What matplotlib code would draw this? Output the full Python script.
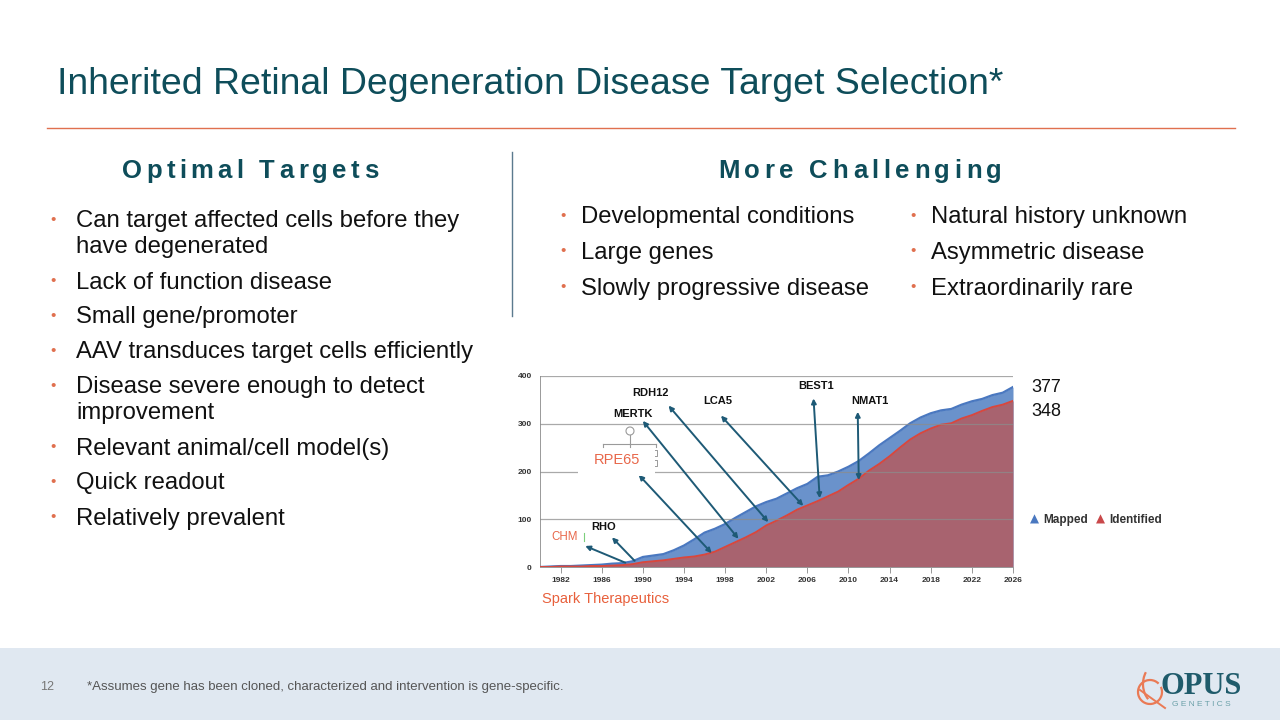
import numpy as np
import matplotlib
matplotlib.use("Agg")
import matplotlib.pyplot as plt
from matplotlib.patches import Rectangle, Arc

plt.rcParams['font.family'] = ['Liberation Sans', 'DejaVu Sans']

# ---- data ----
years = list(range(1980, 2027))
mapped = [0, 1, 2, 2, 3, 4, 5, 7, 8, 12, 21, 24, 27, 35, 45, 58, 72, 80, 90, 103,
          115, 127, 136, 143, 154, 165, 174, 189, 192, 200, 210, 222, 238, 255, 270,
          285, 301, 313, 322, 328, 331, 340, 347, 352, 360, 365, 377]
identified = [0, 0, 1, 1, 1, 2, 2, 3, 4, 6, 10, 12, 14, 17, 20, 22, 26, 32, 42, 52,
              62, 73, 87, 97, 108, 120, 129, 138, 148, 158, 172, 185, 202, 216, 232,
              250, 267, 280, 290, 298, 301, 311, 318, 327, 335, 340, 348]
x_ticks = list(range(1982, 2027, 4))
y_ticks = [0, 100, 200, 300, 400]

# gene callouts: label, label position, arrow head end, arrow curve end
genes = ['CHM', 'RHO', 'RPE65', 'MERTK', 'RDH12', 'LCA5', 'BEST1', 'NMAT1']
label_xy = [(1982.4, 63), (1986.2, 84), (1987.5, 224), (1989.0, 320),
            (1990.7, 364), (1997.3, 348), (2006.8, 379), (2012.1, 348)]
head_xy = [(1984.4, 44), (1987.0, 62), (1989.6, 193), (1990.0, 306),
           (1992.5, 338), (1997.6, 317), (2006.6, 353), (2010.9, 325)]
tail_xy = [(1988.3, 9), (1989.2, 13), (1996.7, 29), (1999.3, 59),
           (2002.2, 94), (2005.6, 128), (2007.2, 144), (2011.0, 182)]

left_bullets = ["Can target affected cells before they\nhave degenerated",
                "Lack of function disease", "Small gene/promoter",
                "AAV transduces target cells efficiently",
                "Disease severe enough to detect\nimprovement",
                "Relevant animal/cell model(s)", "Quick readout",
                "Relatively prevalent"]
right_col1 = ["Developmental conditions", "Large genes", "Slowly progressive disease"]
right_col2 = ["Natural history unknown", "Asymmetric disease", "Extraordinarily rare"]

TEAL = '#0e4d5a'
ORANGE = '#e0704f'
W, H = 1280, 720

fig = plt.figure(figsize=(12.8, 7.2), dpi=100)
fig.patch.set_facecolor('white')


def fx(px):
    return px / W


def fy(py):
    return 1 - py / H


def spaced(cx, cy, s, target_w, **kw):
    # letter-spaced heading, spread to a target pixel width
    r = fig.canvas.get_renderer()
    ref = fig.text(0, 0, 'xx', **kw)
    base = ref.get_window_extent(r).width
    ref.remove()
    widths = []
    for ch in s:
        t = fig.text(0, 0, 'x' + ch + 'x', **kw)
        widths.append(t.get_window_extent(r).width - base)
        t.remove()
    gap = (target_w - sum(widths)) / (len(s) - 1)
    x = cx - target_w / 2
    for ch, w in zip(s, widths):
        fig.text(fx(x), fy(cy), ch, ha='left', va='center', **kw)
        x += w + gap


# title and rules
fig.text(fx(57), fy(84), "Inherited Retinal Degeneration Disease Target Selection*",
         fontsize=26.9, color=TEAL, ha='left', va='center')
fig.add_artist(plt.Line2D([fx(47), fx(1235)], [fy(128), fy(128)], color=ORANGE, lw=1))
fig.add_artist(plt.Line2D([fx(512), fx(512)], [fy(152), fy(316)], color='#5b7a8e', lw=1))

spaced(250, 171, "Optimal Targets", 256, fontsize=18.5, fontweight='bold', color=TEAL)
spaced(860, 171, "More Challenging", 284, fontsize=18.5, fontweight='bold', color=TEAL)

# left bullets
y = 220
for item in left_bullets:
    lines = item.split('\n')
    fig.text(fx(53), fy(y), "\u2022", fontsize=11, color=ORANGE, ha='center', va='center')
    for ln in lines:
        fig.text(fx(76), fy(y + 1.5), ln, fontsize=17.2, color='#111111', ha='left', va='center')
        y += 26
    y += 9

for col_x, items in [(563, right_col1), (913, right_col2)]:
    for i, item in enumerate(items):
        yy = 216 + i * 35.5
        fig.text(fx(col_x), fy(yy), "\u2022", fontsize=11, color=ORANGE, ha='center', va='center')
        fig.text(fx(col_x + 18), fy(yy + 1.5), item, fontsize=17.2, color='#111111',
                 ha='left', va='center')

# ---- chart ----
ax = fig.add_axes([fx(540), fy(567), (1013 - 540) / W, (567 - 376) / H])
ax.fill_between(years, 0, mapped, color='#6a92cb', lw=0, zorder=1)
ax.fill_between(years, 0, identified, color='#a8636f', lw=0, zorder=2)
ax.plot(years, mapped, color='#4a78c0', lw=1.6, zorder=3)
ax.plot(years, identified, color='#d9473d', lw=1.4, zorder=4)
for v in y_ticks[1:]:
    ax.axhline(v, color='#8c8c8c', lw=0.9, alpha=0.75, zorder=5)

ax.set_xlim(1980, 2026)
ax.set_ylim(0, 400)
ax.set_xticks(x_ticks)
ax.set_yticks(y_ticks)
ax.tick_params(axis='x', length=4, width=0.6, color='#888888', labelsize=6, pad=3)
ax.tick_params(axis='y', length=0, labelsize=6, pad=6)
for lab in ax.get_xticklabels() + ax.get_yticklabels():
    lab.set_fontweight('bold')
    lab.set_color('#333333')
for s in ['top', 'right']:
    ax.spines[s].set_visible(False)
for s in ['left', 'bottom']:
    ax.spines[s].set_color('#999999')
    ax.spines[s].set_linewidth(0.7)

# white text box behind RPE65 with selection handles
fig.add_artist(Rectangle((fx(578), fy(476)), 77 / W, 34 / H, facecolor='white',
                         edgecolor='none', zorder=6))
hc = '#9a9a9a'
fig.add_artist(plt.Line2D([fx(603), fx(656)], [fy(444), fy(444)], color=hc, lw=0.8, zorder=7))
for hx in (603, 630, 656):
    fig.add_artist(plt.Line2D([fx(hx), fx(hx)], [fy(444), fy(447)], color=hc, lw=0.8, zorder=7))
fig.add_artist(plt.Line2D([fx(630), fx(630)], [fy(435), fy(444)], color=hc, lw=0.8, zorder=7))
fig.add_artist(Arc((fx(630), fy(431)), 8 / W, 8 / H, color=hc, lw=0.8, zorder=7))
for hy in (453, 463):
    fig.add_artist(plt.Line2D([fx(655), fx(657), fx(657), fx(655)],
                              [fy(hy - 3), fy(hy - 3), fy(hy + 3), fy(hy + 3)],
                              color=hc, lw=0.7, zorder=7))

arrow_col = '#1e5a76'
for g, lxy, hxy, txy in zip(genes, label_xy, head_xy, tail_xy):
    style = '-|>' if g in ('CHM', 'RHO') else '<|-|>'
    ax.annotate('', xy=hxy, xytext=txy, zorder=8,
                arrowprops=dict(arrowstyle=style, color=arrow_col, lw=1.4,
                                mutation_scale=7, shrinkA=0, shrinkB=0))
    if g == 'RPE65':
        # sits in its own white text box, above the chart
        fig.text(*fig.transFigure.inverted().transform(ax.transData.transform(lxy)), g,
                 fontsize=10.5, color='#e8674a', ha='center', va='center', zorder=9)
    elif g == 'CHM':
        ax.text(*lxy, g, fontsize=8.3, color='#e8674a', ha='center', va='center',
                zorder=9, clip_on=False)
    else:
        ax.text(*lxy, g, fontsize=8, fontweight='bold', color='#111111', ha='center',
                va='center', zorder=9, clip_on=False)
fig.add_artist(plt.Line2D([fx(584), fx(584)], [fy(533), fy(541)], color='#7ccf7c', lw=0.8))

# end values and legend
fig.text(fx(1031), fy(388), str(mapped[-1]), fontsize=13, color='#111111', ha='left', va='center')
fig.text(fx(1031), fy(411), str(identified[-1]), fontsize=13, color='#111111', ha='left', va='center')
fig.text(fx(1034), fy(519), "\u25B2", fontsize=8.5, color='#4a78c0', ha='center', va='center',
         family=['DejaVu Sans'])
fig.text(fx(1043), fy(520), "Mapped", fontsize=8.5, fontweight='bold', color='#333333',
         ha='left', va='center')
fig.text(fx(1100), fy(519), "\u25B2", fontsize=8.5, color='#c9484a', ha='center', va='center',
         family=['DejaVu Sans'])
fig.text(fx(1109), fy(520), "Identified", fontsize=8.5, fontweight='bold', color='#333333',
         ha='left', va='center')
fig.text(fx(542), fy(599), "Spark Therapeutics", fontsize=10.5, color='#e8603c',
         ha='left', va='center')

# footer band
fig.add_artist(Rectangle((0, 0), 1, (720 - 648) / H, facecolor='#e0e8f1',
                         edgecolor='none', zorder=0))
fig.text(fx(40), fy(687), "12", fontsize=9, color='#777777', ha='left', va='center')
fig.text(fx(87), fy(687),
         "*Assumes gene has been cloned, characterized and intervention is gene-specific.",
         fontsize=9.5, color='#555555', ha='left', va='center')

# logo
fig.add_artist(Arc((fx(1150), fy(692)), 24 / W, 24 / H, theta1=60, theta2=400,
                   color='#ea7a55', lw=1.6))
fig.add_artist(Arc((fx(1158), fy(684)), 30 / W, 40 / H, theta1=120, theta2=250,
                   color='#ea7a55', lw=1.6))
fig.add_artist(plt.Line2D([fx(1140), fx(1165)], [fy(690), fy(708)], color='#ea7a55', lw=1.4))
fig.text(fx(1160), fy(686), "OPUS", fontsize=22, fontweight='bold', color='#1f5b6b',
         family=['Liberation Serif', 'DejaVu Serif'], ha='left', va='center')
fig.text(fx(1172), fy(705), "G E N E T I C S", fontsize=6, color='#6aa0a8',
         ha='left', va='center')

fig.savefig("out.png", dpi=100)
